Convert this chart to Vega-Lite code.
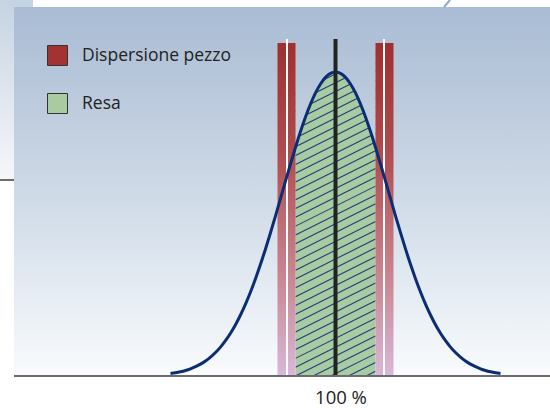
{
  "$schema": "https://vega.github.io/schema/vega-lite/v6.json",
  "width": 550,
  "height": 408,
  "autosize": {"type": "none"},
  "padding": 0,
  "background": "white",
  "config": {"view": {"stroke": null}},
  "datasets": {
    "curve": [
      {"x": 67, "y": 0.0079}, {"x": 68, "y": 0.0105}, {"x": 69, "y": 0.0139}, {"x": 70, "y": 0.0182},
      {"x": 71, "y": 0.0237}, {"x": 72, "y": 0.0305}, {"x": 73, "y": 0.039}, {"x": 74, "y": 0.0494},
      {"x": 75, "y": 0.062}, {"x": 76, "y": 0.0771}, {"x": 77, "y": 0.095}, {"x": 78, "y": 0.116},
      {"x": 79, "y": 0.1405}, {"x": 80, "y": 0.1686}, {"x": 81, "y": 0.2006}, {"x": 82, "y": 0.2365},
      {"x": 83, "y": 0.2764}, {"x": 84, "y": 0.3201}, {"x": 85, "y": 0.3674}, {"x": 86, "y": 0.418},
      {"x": 87, "y": 0.4714}, {"x": 88, "y": 0.5269}, {"x": 89, "y": 0.5837}, {"x": 90, "y": 0.6408},
      {"x": 91, "y": 0.6974}, {"x": 92, "y": 0.7522}, {"x": 93, "y": 0.8041}, {"x": 94, "y": 0.852},
      {"x": 95, "y": 0.8947}, {"x": 96, "y": 0.9313}, {"x": 97, "y": 0.9607}, {"x": 98, "y": 0.9824},
      {"x": 99, "y": 0.9956}, {"x": 100, "y": 1.0}, {"x": 101, "y": 0.9956}, {"x": 102, "y": 0.9824},
      {"x": 103, "y": 0.9607}, {"x": 104, "y": 0.9313}, {"x": 105, "y": 0.8947}, {"x": 106, "y": 0.852},
      {"x": 107, "y": 0.8041}, {"x": 108, "y": 0.7522}, {"x": 109, "y": 0.6974}, {"x": 110, "y": 0.6408},
      {"x": 111, "y": 0.5837}, {"x": 112, "y": 0.5269}, {"x": 113, "y": 0.4714}, {"x": 114, "y": 0.418},
      {"x": 115, "y": 0.3674}, {"x": 116, "y": 0.3201}, {"x": 117, "y": 0.2764}, {"x": 118, "y": 0.2365},
      {"x": 119, "y": 0.2006}, {"x": 120, "y": 0.1686}, {"x": 121, "y": 0.1405}, {"x": 122, "y": 0.116},
      {"x": 123, "y": 0.095}, {"x": 124, "y": 0.0771}, {"x": 125, "y": 0.062}, {"x": 126, "y": 0.0494},
      {"x": 127, "y": 0.039}, {"x": 128, "y": 0.0305}, {"x": 129, "y": 0.0237}, {"x": 130, "y": 0.0182},
      {"x": 131, "y": 0.0139}, {"x": 132, "y": 0.0105}, {"x": 133, "y": 0.0079}
    ],
    "hatch": [
      {"x": 106.1, "y": 0, "x2": 108, "y2": 0.0156},
      {"x": 102.58, "y": 0, "x2": 108, "y2": 0.0446},
      {"x": 99.05, "y": 0, "x2": 108, "y2": 0.0736},
      {"x": 95.53, "y": 0, "x2": 108, "y2": 0.1026},
      {"x": 92, "y": 0, "x2": 108, "y2": 0.1316},
      {"x": 92, "y": 0.029, "x2": 108, "y2": 0.1606},
      {"x": 92, "y": 0.058, "x2": 108, "y2": 0.1896},
      {"x": 92, "y": 0.087, "x2": 108, "y2": 0.2186},
      {"x": 92, "y": 0.116, "x2": 108, "y2": 0.2476},
      {"x": 92, "y": 0.145, "x2": 108, "y2": 0.2766},
      {"x": 92, "y": 0.174, "x2": 108, "y2": 0.3056},
      {"x": 92, "y": 0.203, "x2": 108, "y2": 0.3346},
      {"x": 92, "y": 0.232, "x2": 108, "y2": 0.3636},
      {"x": 92, "y": 0.261, "x2": 108, "y2": 0.3926},
      {"x": 92, "y": 0.29, "x2": 108, "y2": 0.4216},
      {"x": 92, "y": 0.319, "x2": 108, "y2": 0.4506},
      {"x": 92, "y": 0.348, "x2": 108, "y2": 0.4796},
      {"x": 92, "y": 0.377, "x2": 108, "y2": 0.5086},
      {"x": 92, "y": 0.406, "x2": 108, "y2": 0.5376},
      {"x": 92, "y": 0.435, "x2": 108, "y2": 0.5666},
      {"x": 92, "y": 0.464, "x2": 108, "y2": 0.5956},
      {"x": 92, "y": 0.493, "x2": 108, "y2": 0.6246},
      {"x": 92, "y": 0.522, "x2": 108, "y2": 0.6536},
      {"x": 92, "y": 0.551, "x2": 108, "y2": 0.6826},
      {"x": 92, "y": 0.58, "x2": 108, "y2": 0.7116},
      {"x": 92, "y": 0.609, "x2": 108, "y2": 0.7406},
      {"x": 92, "y": 0.638, "x2": 108, "y2": 0.7696},
      {"x": 92, "y": 0.667, "x2": 108, "y2": 0.7986},
      {"x": 92, "y": 0.696, "x2": 108, "y2": 0.8276},
      {"x": 92, "y": 0.725, "x2": 108, "y2": 0.8566},
      {"x": 92, "y": 0.754, "x2": 108, "y2": 0.8856},
      {"x": 92, "y": 0.783, "x2": 108, "y2": 0.9146},
      {"x": 92, "y": 0.812, "x2": 108, "y2": 0.9436},
      {"x": 92, "y": 0.841, "x2": 108, "y2": 0.9726},
      {"x": 92, "y": 0.87, "x2": 108, "y2": 1.0016},
      {"x": 92, "y": 0.899, "x2": 108, "y2": 1.0306},
      {"x": 92, "y": 0.928, "x2": 108, "y2": 1.0596}
    ]
  },
  "layer": [
    {
      "data": {"values": [{"x": 32.9, "x2": 35.7, "y": 1.23684, "y2": 0.64474}]},
      "mark": {"type": "rect", "color": {"gradient": "linear", "x1": 0, "y1": 0, "x2": 0, "y2": 1, "stops": [{"offset": 0, "color": "#c6d3e2"}, {"offset": 1, "color": "#f5f7fa"}]}},
      "encoding": {
        "x": {"field": "x", "type": "quantitative", "scale": {"domain": [32.9, 142.9], "nice": false, "zero": false}, "axis": null},
        "x2": {"field": "x2"},
        "y": {"field": "y", "type": "quantitative", "scale": {"domain": [-0.10526, 1.23684], "nice": false, "zero": false}, "axis": null},
        "y2": {"field": "y2"}
      }
    },
    {
      "data": {"values": [{"x": 35.7, "x2": 39.5, "y": 1.23684, "y2": 1.21382}]},
      "mark": {"type": "rect", "color": "#c6d3e2"},
      "encoding": {
        "x": {"field": "x", "type": "quantitative", "scale": {"domain": [32.9, 142.9], "nice": false, "zero": false}, "axis": null},
        "x2": {"field": "x2"},
        "y": {"field": "y", "type": "quantitative", "scale": {"domain": [-0.10526, 1.23684], "nice": false, "zero": false}, "axis": null},
        "y2": {"field": "y2"}
      }
    },
    {
      "data": {"values": [{"x": 35.7, "x2": 142.9, "y": 1.21382, "y2": 0}]},
      "mark": {"type": "rect", "color": {"gradient": "linear", "x1": 0, "y1": 0, "x2": 0, "y2": 1, "stops": [{"offset": 0, "color": "#a9bcd4"}, {"offset": 0.3, "color": "#bfcdde"}, {"offset": 0.6, "color": "#d6e0eb"}, {"offset": 1, "color": "#f9fbfd"}]}},
      "encoding": {
        "x": {"field": "x", "type": "quantitative", "scale": {"domain": [32.9, 142.9], "nice": false, "zero": false}, "axis": null},
        "x2": {"field": "x2"},
        "y": {"field": "y", "type": "quantitative", "scale": {"domain": [-0.10526, 1.23684], "nice": false, "zero": false}, "axis": null},
        "y2": {"field": "y2"}
      }
    },
    {
      "data": {"name": "curve"},
      "transform": [{"filter": "datum.x >= 92 && datum.x <= 108"}],
      "mark": {"type": "area", "color": "#a9cba2", "interpolate": "monotone"},
      "encoding": {
        "x": {"field": "x", "type": "quantitative", "scale": {"domain": [32.9, 142.9], "nice": false, "zero": false}, "axis": null},
        "y": {"field": "y", "type": "quantitative", "scale": {"domain": [-0.10526, 1.23684], "nice": false, "zero": false}, "axis": null},
        "y2": {"datum": 0}
      }
    },
    {
      "data": {"name": "hatch"},
      "mark": {"type": "rule", "color": "#1d3e7d", "strokeWidth": 1.1},
      "encoding": {
        "x": {"field": "x", "type": "quantitative", "scale": {"domain": [32.9, 142.9], "nice": false, "zero": false}, "axis": null},
        "x2": {"field": "x2"},
        "y": {"field": "y", "type": "quantitative", "scale": {"domain": [-0.10526, 1.23684], "nice": false, "zero": false}, "axis": null},
        "y2": {"field": "y2"}
      }
    },
    {
      "data": {"name": "curve"},
      "transform": [{"filter": "datum.x >= 92 && datum.x <= 108"}],
      "mark": {"type": "area", "interpolate": "monotone", "color": {"gradient": "linear", "x1": 0, "y1": 0, "x2": 0, "y2": 2.6295, "stops": [{"offset": 0, "color": "#a9bcd4"}, {"offset": 0.3, "color": "#bfcdde"}, {"offset": 0.6, "color": "#d6e0eb"}, {"offset": 1, "color": "#f9fbfd"}]}},
      "encoding": {
        "x": {"field": "x", "type": "quantitative", "scale": {"domain": [32.9, 142.9], "nice": false, "zero": false}, "axis": null},
        "y": {"field": "y", "type": "quantitative", "scale": {"domain": [-0.10526, 1.23684], "nice": false, "zero": false}, "axis": null},
        "y2": {"datum": 1.21382}
      }
    },
    {
      "data": {"values": [{"x": 88.4, "x2": 92, "y": 1.0954}, {"x": 108, "x2": 111.6, "y": 1.0954}]},
      "mark": {"type": "rect", "color": {"gradient": "linear", "x1": 0, "y1": 0, "x2": 0, "y2": 1, "stops": [{"offset": 0, "color": "#a02f2e"}, {"offset": 0.32, "color": "#b04a4c"}, {"offset": 0.74, "color": "#cc8b98"}, {"offset": 1, "color": "#d9b8d9"}]}},
      "encoding": {
        "x": {"field": "x", "type": "quantitative", "scale": {"domain": [32.9, 142.9], "nice": false, "zero": false}, "axis": null},
        "x2": {"field": "x2"},
        "y": {"field": "y", "type": "quantitative", "scale": {"domain": [-0.10526, 1.23684], "nice": false, "zero": false}, "axis": null},
        "y2": {"datum": 0}
      }
    },
    {
      "data": {"values": [{"x": 90.3}, {"x": 109.7}]},
      "mark": {"type": "rule", "color": "#ffffff", "strokeWidth": 2},
      "encoding": {
        "x": {"field": "x", "type": "quantitative", "scale": {"domain": [32.9, 142.9], "nice": false, "zero": false}, "axis": null},
        "y": {"datum": 0, "type": "quantitative", "scale": {"domain": [-0.10526, 1.23684], "nice": false, "zero": false}, "axis": null},
        "y2": {"datum": 1.1086}
      }
    },
    {
      "data": {"name": "curve"},
      "mark": {"type": "line", "color": "#0b2d73", "strokeWidth": 3, "interpolate": "monotone", "strokeCap": "butt"},
      "encoding": {
        "x": {"field": "x", "type": "quantitative", "scale": {"domain": [32.9, 142.9], "nice": false, "zero": false}, "axis": null},
        "y": {"field": "y", "type": "quantitative", "scale": {"domain": [-0.10526, 1.23684], "nice": false, "zero": false}, "axis": null}
      }
    },
    {
      "data": {"values": [{"x": 100, "label": "100 %"}]},
      "layer": [
        {
          "mark": {"type": "rule", "color": "#222222", "strokeWidth": 4},
          "encoding": {
            "x": {"field": "x", "type": "quantitative", "scale": {"domain": [32.9, 142.9], "nice": false, "zero": false}, "axis": null},
            "y": {"datum": 0, "type": "quantitative", "scale": {"domain": [-0.10526, 1.23684], "nice": false, "zero": false}, "axis": null},
            "y2": {"datum": 1.1086}
          }
        },
        {
          "mark": {"type": "text", "font": "Open Sans", "fontSize": 18.5, "color": "#222222", "align": "center", "baseline": "alphabetic", "dx": 5.5},
          "encoding": {
            "x": {"field": "x", "type": "quantitative", "scale": {"domain": [32.9, 142.9], "nice": false, "zero": false}, "axis": null},
            "y": {"datum": -0.0921, "type": "quantitative", "scale": {"domain": [-0.10526, 1.23684], "nice": false, "zero": false}, "axis": null},
            "text": {"field": "label"}
          }
        }
      ]
    },
    {
      "data": {"values": [{"x": 35.7, "x2": 142.9, "y": 0}]},
      "mark": {"type": "rule", "color": "#6b6b6b", "strokeWidth": 2},
      "encoding": {
        "x": {"field": "x", "type": "quantitative", "scale": {"domain": [32.9, 142.9], "nice": false, "zero": false}, "axis": null},
        "x2": {"field": "x2"},
        "y": {"field": "y", "type": "quantitative", "scale": {"domain": [-0.10526, 1.23684], "nice": false, "zero": false}, "axis": null}
      }
    },
    {
      "data": {"values": [{"x": 32.9, "x2": 35.7, "y": 0.64474}]},
      "mark": {"type": "rule", "color": "#6d6d6d", "strokeWidth": 2},
      "encoding": {
        "x": {"field": "x", "type": "quantitative", "scale": {"domain": [32.9, 142.9], "nice": false, "zero": false}, "axis": null},
        "x2": {"field": "x2"},
        "y": {"field": "y", "type": "quantitative", "scale": {"domain": [-0.10526, 1.23684], "nice": false, "zero": false}, "axis": null}
      }
    },
    {
      "data": {"values": [{"x": 122.9, "y": 1.23684, "x2": 121.7, "y2": 1.21382}]},
      "mark": {"type": "rule", "color": "#8fa8ca", "strokeWidth": 2},
      "encoding": {
        "x": {"field": "x", "type": "quantitative", "scale": {"domain": [32.9, 142.9], "nice": false, "zero": false}, "axis": null},
        "x2": {"field": "x2"},
        "y": {"field": "y", "type": "quantitative", "scale": {"domain": [-0.10526, 1.23684], "nice": false, "zero": false}, "axis": null},
        "y2": {"field": "y2"}
      }
    },
    {
      "data": {"values": [{"serie": "Dispersione pezzo"}, {"serie": "Resa"}]},
      "mark": {"type": "square", "size": 400, "opacity": 1, "clip": true},
      "encoding": {
        "x": {"datum": 200, "type": "quantitative", "scale": {"domain": [32.9, 142.9], "nice": false, "zero": false}, "axis": null},
        "y": {"datum": 0.5, "type": "quantitative", "scale": {"domain": [-0.10526, 1.23684], "nice": false, "zero": false}, "axis": null},
        "fill": {
          "field": "serie", "type": "nominal",
          "scale": {"domain": ["Dispersione pezzo", "Resa"], "range": ["#a33232", "#a9cba2"]},
          "legend": {"orient": "none", "legendX": 47, "legendY": 45, "title": null, "padding": 0, "symbolType": "square", "symbolSize": 400, "symbolStrokeColor": "#333333", "symbolStrokeWidth": 1, "symbolOpacity": 1, "labelFont": "Open Sans", "labelFontSize": 17.5, "labelColor": "#222222", "labelOffset": 14, "rowPadding": 23}
        }
      }
    }
  ]
}
